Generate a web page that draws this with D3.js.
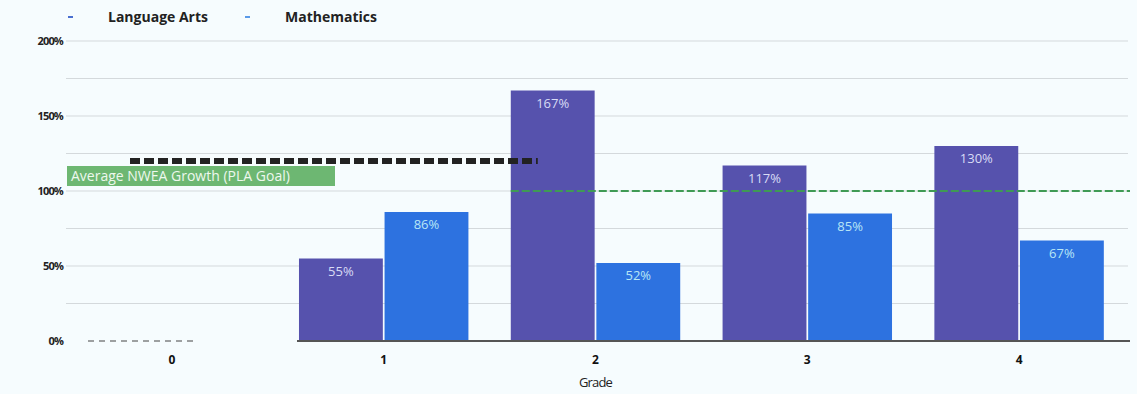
<!DOCTYPE html>
<html>
<head>
<meta charset="utf-8">
<script src="https://cdn.jsdelivr.net/npm/d3@7"></script>
<style>
  body { margin: 0; background: #f6fcfe; }
  .canvas { width: 1137px; height: 394px; }
  text { font-family: "Open Sans", "DejaVu Sans", sans-serif; }
</style>
</head>
<body>
<div class="canvas"></div>
<script>
// data
var grades = ['0', '1', '2', '3', '4'];
var seriesNames = ['Language Arts', 'Mathematics'];
var languageArts = [null, 55, 167, 117, 130];
var mathematics = [null, 86, 52, 85, 67];
var yTicks = [0, 50, 100, 150, 200];
var yTickLabels = ['0%', '50%', '100%', '150%', '200%'];
var goalValue = 100;
var goalLabel = 'Average NWEA Growth (PLA Goal)';
var blackLineValue = 120;

var width = 1137, height = 394;
var colors = ['#5652ad', '#2d72e0'];
var labelColors = ['#d9dcf5', '#b8e6f6'];

var svg = d3.select('.canvas').append('svg')
  .attr('width', width).attr('height', height);

var x = d3.scaleBand().domain(grades).range([66, 1125]).padding(0);
var x1 = d3.scaleBand().domain(seriesNames).range([0, x.bandwidth() * 0.8]).paddingInner(0.02);
var y = d3.scaleLinear().domain([0, 200]).range([341, 41]);

// gridlines every 25%
var grid = svg.append('g');
grid.selectAll('line')
  .data(d3.range(25, 201, 25))
  .enter().append('line')
  .attr('x1', 66).attr('x2', 1128)
  .attr('y1', d => y(d)).attr('y2', d => y(d))
  .attr('stroke', '#d4d9dc').attr('stroke-width', 1);

// bars
var rows = grades.map(function (g, i) {
  return { grade: g, values: [languageArts[i], mathematics[i]] };
});

var groups = svg.selectAll('g.grade')
  .data(rows)
  .enter().append('g')
  .attr('class', 'grade')
  .attr('transform', d => 'translate(' + (x(d.grade) + x.bandwidth() * 0.1) + ',0)');

groups.selectAll('rect')
  .data(d => d.values.map((v, j) => ({ v: v, j: j })).filter(e => e.v != null))
  .enter().append('rect')
  .attr('x', d => x1(seriesNames[d.j]))
  .attr('width', x1.bandwidth())
  .attr('y', d => y(d.v))
  .attr('height', d => y(0) - y(d.v))
  .attr('fill', d => colors[d.j]);

groups.selectAll('text.val')
  .data(d => d.values.map((v, j) => ({ v: v, j: j })).filter(e => e.v != null))
  .enter().append('text')
  .attr('class', 'val')
  .attr('x', d => x1(seriesNames[d.j]) + x1.bandwidth() / 2)
  .attr('y', d => y(d.v) + 17)
  .attr('text-anchor', 'middle')
  .attr('font-size', 13)
  .attr('fill', d => labelColors[d.j])
  .text(d => d.v + '%');

// goal line (green dashed)
var goalStart = x('2') + x.bandwidth() * 0.1;
svg.append('line')
  .attr('x1', goalStart).attr('x2', 1130)
  .attr('y1', y(goalValue)).attr('y2', y(goalValue))
  .attr('stroke', '#3f9a55').attr('stroke-width', 2)
  .attr('stroke-dasharray', '8,3');

// black dashed line
svg.append('line')
  .attr('x1', 130).attr('x2', goalStart + 27)
  .attr('y1', y(blackLineValue)).attr('y2', y(blackLineValue))
  .attr('stroke', '#222').attr('stroke-width', 6)
  .attr('stroke-dasharray', '10,4');

// goal label box
svg.append('rect')
  .attr('x', 67).attr('y', 166).attr('width', 268).attr('height', 20)
  .attr('fill', '#6db772');
svg.append('text')
  .attr('x', 71).attr('y', 181)
  .attr('font-size', 14)
  .attr('fill', '#eef8ee')
  .text(goalLabel);

// baseline
svg.append('line')
  .attr('x1', 297).attr('x2', 1130)
  .attr('y1', y(0)).attr('y2', y(0))
  .attr('stroke', '#555').attr('stroke-width', 2);
svg.append('line')
  .attr('x1', 88).attr('x2', 195)
  .attr('y1', y(0)).attr('y2', y(0))
  .attr('stroke', '#444').attr('stroke-width', 1)
  .attr('stroke-dasharray', '6,5');

// y tick labels
svg.selectAll('text.ytick')
  .data(yTicks)
  .enter().append('text')
  .attr('class', 'ytick')
  .attr('x', 63)
  .attr('y', d => y(d) + 4)
  .attr('text-anchor', 'end')
  .attr('font-size', 11)
  .attr('font-family', 'Liberation Sans, sans-serif')
  .attr('font-weight', 'bold')
  .attr('letter-spacing', -0.8)
  .attr('fill', '#222')
  .text((d, i) => yTickLabels[i]);

// x tick labels
svg.selectAll('text.xtick')
  .data(grades)
  .enter().append('text')
  .attr('class', 'xtick')
  .attr('x', d => x(d) + x.bandwidth() / 2)
  .attr('y', 364)
  .attr('text-anchor', 'middle')
  .attr('font-size', 12)
  .attr('font-weight', 'bold')
  .attr('fill', '#111')
  .text(d => d);

svg.append('text')
  .attr('x', x('2') + x.bandwidth() / 2)
  .attr('y', 387)
  .attr('text-anchor', 'middle')
  .attr('font-size', 13)
  .attr('font-family', 'Liberation Sans, sans-serif')
  .attr('letter-spacing', -0.8)
  .attr('fill', '#222')
  .text('Grade');

// legend
var legendX = [68, 245];
var legend = svg.selectAll('g.legend')
  .data(seriesNames)
  .enter().append('g')
  .attr('class', 'legend')
  .attr('transform', (d, i) => 'translate(' + legendX[i] + ',0)');
legend.append('rect')
  .attr('x', 0).attr('y', 16).attr('width', 5).attr('height', 2)
  .attr('fill', (d, i) => i === 0 ? '#4a6fd0' : '#5a9ae8');
legend.append('text')
  .attr('x', 40).attr('y', 22)
  .attr('font-size', 14)
  .attr('font-weight', 'bold')
  .attr('fill', '#222')
  .text(d => d);
</script>
</body>
</html>
